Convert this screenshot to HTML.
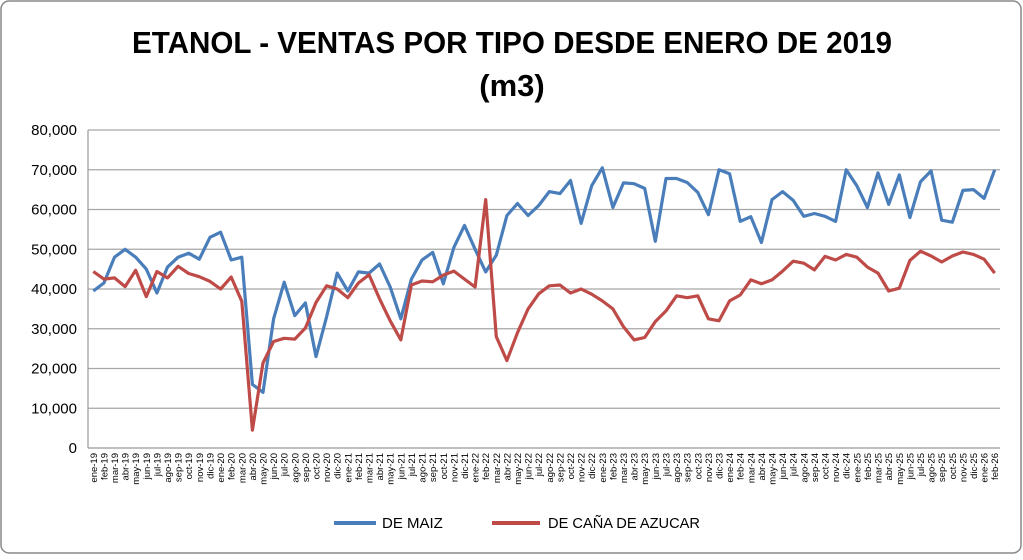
<!DOCTYPE html>
<html><head><meta charset="utf-8"><style>
html,body{margin:0;padding:0;background:#fff;}
body{width:1023px;height:555px;overflow:hidden;font-family:"Liberation Sans",sans-serif;}
</style></head><body>
<svg id="s" width="1023" height="555" xmlns="http://www.w3.org/2000/svg" font-family="Liberation Sans, sans-serif">
<rect x="1" y="1" width="1020" height="552" rx="8" fill="#fff" stroke="#888" stroke-width="1.5"/>
<text x="512" y="53" text-anchor="middle" font-size="31" font-weight="bold" fill="#000" textLength="760" lengthAdjust="spacingAndGlyphs">ETANOL - VENTAS POR TIPO DESDE ENERO DE 2019</text>
<text x="512" y="96" text-anchor="middle" font-size="31" font-weight="bold" fill="#000">(m3)</text>
<g id="g"></g>
<g font-size="15" fill="#000">
<line x1="334" y1="523" x2="376" y2="523" stroke="#4a7ebb" stroke-width="4"/>
<text x="382" y="528">DE MAIZ</text>
<line x1="492" y1="523" x2="540" y2="523" stroke="#be4b48" stroke-width="4"/>
<text x="548" y="528" textLength="152" lengthAdjust="spacingAndGlyphs">DE CAÑA DE AZUCAR</text>
</g>
</svg>
<script>
const blue=[39.5,41.5,48,50,48,45,39,45.5,48,49,47.5,53,54.3,47.3,48,16,14,32.5,41.7,33.3,36.5,23,33,44,39.5,44.3,44,46.3,40.5,32.5,42.5,47.3,49.2,41.3,50.5,56,50,44.3,48.5,58.5,61.5,58.5,61,64.5,64,67.3,56.5,66,70.5,60.5,66.7,66.5,65.3,52,67.8,67.8,66.8,64.3,58.7,70,69,57,58.2,51.7,62.5,64.5,62.3,58.3,59,58.3,57,70,66,60.5,69.2,61.3,68.7,58,67,69.7,57.3,56.8,64.8,65,62.8,70];
const red=[44.4,42.5,42.8,40.6,44.7,38.1,44.4,42.8,45.7,43.9,43.1,41.9,40,43,36.9,4.5,21.4,26.8,27.6,27.4,30.2,36.6,40.8,40,37.8,41.5,43.6,37.5,32,27.2,41,42,41.8,43.5,44.5,42.5,40.5,62.5,28,22,29,35,38.8,40.8,41,39,40,38.7,37,35,30.5,27.2,27.8,31.8,34.5,38.3,37.8,38.3,32.5,32,37,38.5,42.3,41.3,42.3,44.5,47,46.5,44.8,48.2,47.3,48.7,48,45.5,44,39.5,40.2,47.2,49.5,48.3,46.8,48.3,49.3,48.7,47.5,44];
const m=['ene','feb','mar','abr','may','jun','jul','ago','sep','oct','nov','dic'];
const L=88,R=1000,T=130,B=448,N=86,dx=(R-L)/N;
const Y=v=>B-(v/80)*(B-T);
let h='';
for(let i=0;i<=8;i++){const y=B-i*(B-T)/8;
 h+=`<line x1="${L}" y1="${y}" x2="${R}" y2="${y}" stroke="${i==0?'#999':'#a6a6a6'}" stroke-width="1.2"/>`;
 h+=`<text x="77" y="${y+5}" text-anchor="end" font-size="15">${i==0?'0':(i*10)+',000'}</text>`;}
h+=`<line x1="${L}" y1="${T}" x2="${L}" y2="${B}" stroke="#999" stroke-width="1.2"/>`;
for(let i=0;i<N;i++){const x=L+dx*(i+0.5);const lab=m[i%12]+'-'+(19+Math.floor(i/12));
 h+=`<text transform="translate(${x+3.5},453) rotate(-90)" text-anchor="end" font-size="9.5">${lab}</text>`;}
const pts=a=>a.map((v,i)=>(L+dx*(i+0.5)).toFixed(1)+','+Y(v).toFixed(1)).join(' ');
h+=`<polyline points="${pts(blue)}" fill="none" stroke="#4a7ebb" stroke-width="3.2" stroke-linejoin="round"/>`;
h+=`<polyline points="${pts(red)}" fill="none" stroke="#be4b48" stroke-width="3.2" stroke-linejoin="round"/>`;
document.getElementById('g').innerHTML=h;
</script>
</body></html>
